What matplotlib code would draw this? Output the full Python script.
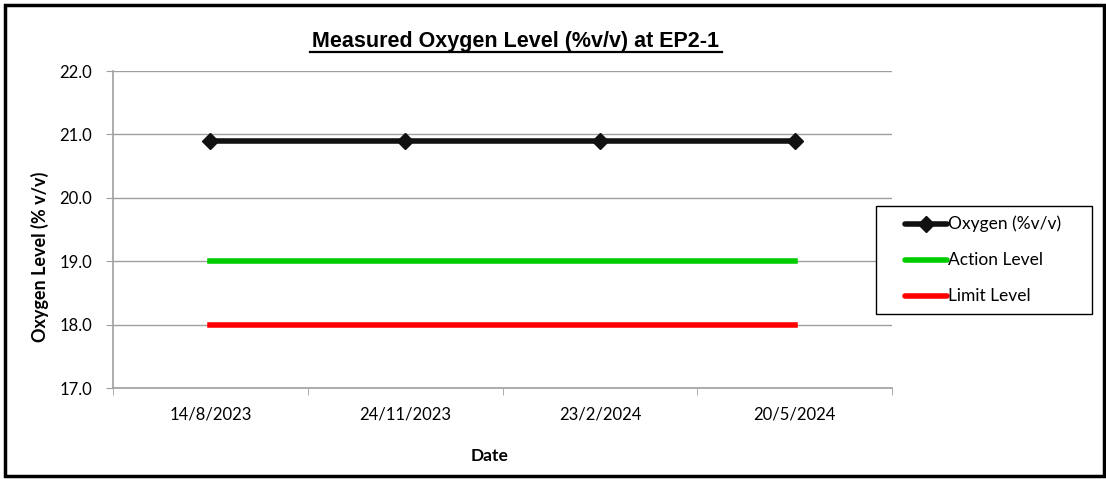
import matplotlib
matplotlib.use("Agg")
import matplotlib.pyplot as plt
from matplotlib.patches import Rectangle
from matplotlib.lines import Line2D

dates = ["14/8/2023", "24/11/2023", "23/2/2024", "20/5/2024"]
oxygen = [20.9, 20.9, 20.9, 20.9]
action = [19.0, 19.0, 19.0, 19.0]
limit = [18.0, 18.0, 18.0, 18.0]
yticks = [17.0, 18.0, 19.0, 20.0, 21.0, 22.0]
series_labels = ["Oxygen (%v/v)", "Action Level", "Limit Level"]
series_colors = ["#111111", "#00cc00", "#ff0000"]

W, H = 1106, 479
fig = plt.figure(figsize=(W/100, H/100), dpi=100)
fig.patch.set_facecolor("white")

def fx(px):
    return px / W

def fy(py):
    return 1 - py / H

# outer frame
fig.add_artist(Rectangle((fx(5), fy(476)), (1104-5)/W, (476-5)/H, transform=fig.transFigure,
                         fill=False, edgecolor="black", linewidth=2.5))

ax = fig.add_axes([fx(113), fy(388), (892-113)/W, (388-71)/H])
x = list(range(len(dates)))
grid_c = "#a0a0a0"
ax.plot(x, oxygen, color=series_colors[0], linewidth=4, marker="D", markersize=8, zorder=5)
ax.plot(x, action, color=series_colors[1], linewidth=4, zorder=4)
ax.plot(x, limit, color=series_colors[2], linewidth=4, zorder=4)

ax.set_xlim(-0.5, len(dates) - 0.5)
ax.set_ylim(17, 22)
ax.set_yticks(yticks)
ax.set_yticklabels([f"{v:.1f}" for v in yticks], fontsize=12, family="Lato")
ax.set_xticks(x)
ax.set_xticklabels(dates, fontsize=12, family="Lato")
ax.set_xticks([i - 0.5 for i in range(len(dates) + 1)], minor=True)
ax.tick_params(axis="x", which="major", length=0, pad=13)
ax.tick_params(axis="x", which="minor", length=5, color=grid_c, direction="out")
ax.tick_params(axis="y", length=5, color=grid_c, direction="out", pad=10)
ax.yaxis.grid(True, color=grid_c, linewidth=1)
ax.set_axisbelow(True)
for s in ["top", "right"]:
    ax.spines[s].set_visible(False)
for s in ["left", "bottom"]:
    ax.spines[s].set_color(grid_c)
    ax.spines[s].set_linewidth(1.2)

fig.text(fx(516), fy(41), "Measured Oxygen Level (%v/v) at EP2-1", ha="center", va="center",
         fontsize=15.5, fontweight="bold", family="Liberation Sans")
fig.add_artist(Line2D([fx(310), fx(722)], [fy(52), fy(52)], color="black", linewidth=1.6))

fig.text(fx(490), fy(456), "Date", ha="center", va="center", fontsize=12.5, fontweight="bold", family="Lato")
fig.text(fx(40), fy(257), "Oxygen Level (% v/v)", ha="center", va="center", rotation=90,
         fontsize=13, fontweight="bold", family="Lato")

# legend box
fig.add_artist(Rectangle((fx(876), fy(314)), (1092-876)/W, (314-206)/H, transform=fig.transFigure,
                         fill=True, facecolor="white", edgecolor="black", linewidth=1))
rows = [224, 260, 296]
for i, (lab, col) in enumerate(zip(series_labels, series_colors)):
    yy = fy(rows[i])
    fig.add_artist(Line2D([fx(905), fx(947)], [yy, yy], color=col, linewidth=4,
                          solid_capstyle="round"))
    if i == 0:
        fig.add_artist(Line2D([fx(926)], [yy], color=col, marker="D", markersize=8))
    fig.text(fx(948), yy, lab, ha="left", va="center", fontsize=12.5, family="Lato")

fig.savefig("out.png", dpi=100)
